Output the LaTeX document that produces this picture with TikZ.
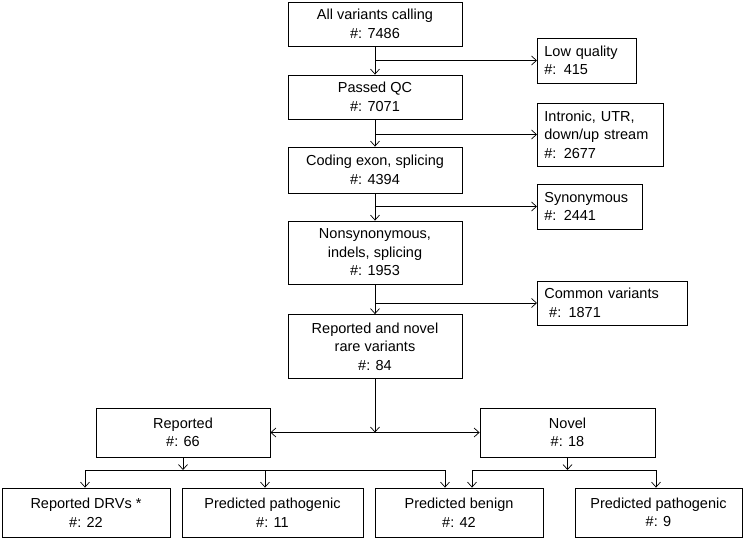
\documentclass[tikz,border=0pt]{standalone}
\usepackage{fontspec}
\setmainfont{Liberation Sans}
\usetikzlibrary{arrows.meta}
\begin{document}
\begin{tikzpicture}[x=1pt,y=-1pt,
  box/.style={draw,line width=0.8pt,inner sep=2pt,align=center,font=\fontsize{14.5}{18.5}\selectfont},
  sbox/.style={draw,line width=0.8pt,inner xsep=7pt,inner ysep=2pt,align=left,anchor=west,text width=#1-14pt,minimum width=#1,font=\fontsize{14.5}{18.5}\selectfont},
  conn/.style={line width=0.7pt},
  arr/.style={line width=0.7pt,-{Straight Barb[length=5pt,width=9pt]}}]
\useasboundingbox (0,0) rectangle (743,541);
% main column
\node[box,minimum width=174pt,minimum height=44pt] (b1) at (375,24) {All variants calling\\\#: 7486};
\node[box,minimum width=174pt,minimum height=44pt] (b2) at (375,97) {Passed QC\\\#: 7071};
\node[box,minimum width=174pt,minimum height=46pt] (b3) at (375,170) {Coding exon, splicing\\\#: 4394};
\node[box,minimum width=174pt,minimum height=63pt] (b4) at (375,252.5) {Nonsynonymous,\\indels, splicing\\\#: 1953};
\node[box,minimum width=174pt,minimum height=64pt] (b5) at (375,346.5) {Reported and novel\\rare variants\\\#: 84};
% side boxes
\node[sbox=99pt,minimum height=45pt] (s1) at (537,60.5) {Low quality\\\#: 415};
\node[sbox=126pt,minimum height=63pt] (s2) at (537,134.5) {Intronic, UTR,\\down/up stream\\\#: 2677};
\node[sbox=105pt,minimum height=45pt] (s3) at (537,206.5) {Synonymous\\\#: 2441};
\node[sbox=150pt,minimum height=44pt] (s4) at (537,303) {Common variants\\\ \#: 1871};
% second level
\node[box,minimum width=174pt,minimum height=49pt] (rep) at (183,432.5) {Reported\\\#: 66};
\node[box,minimum width=175pt,minimum height=49pt] (nov) at (567.5,432.5) {Novel\\\#: 18};
% bottom
\node[box,minimum width=168pt,minimum height=49pt] (c1) at (86,512.5) {Reported DRVs *\\\#: 22};
\node[box,minimum width=181pt,minimum height=49pt] (c2) at (272.5,512.5) {Predicted pathogenic\\\#: 11};
\node[box,minimum width=168pt,minimum height=49pt] (c3) at (459,512.5) {Predicted benign\\\#: 42};
\node[box,minimum width=167pt,minimum height=49pt] (c4) at (658.5,512.5) {Predicted pathogenic\\\#: 9};
% main flow
\draw[arr] (b1.south) -- (b2.north);
\draw[arr] (b2.south) -- (b3.north);
\draw[arr] (b3.south) -- (b4.north);
\draw[arr] (b4.south) -- (b5.north);
\coordinate (j1) at (b1.south |- s1.west);
\coordinate (j2) at (b2.south |- s2.west);
\coordinate (j3) at (b3.south |- s3.west);
\coordinate (j4) at (b4.south |- s4.west);
\draw[arr] (j1) -- (s1.west);
\draw[arr] (j2) -- (s2.west);
\draw[arr] (j3) -- (s3.west);
\draw[arr] (j4) -- (s4.west);
% split
\coordinate (sp) at (b5.south |- rep.east);
\draw[arr] (b5.south) -- (sp);
\draw[arr] (sp) -- (rep.east);
\draw[arr] (sp) -- (nov.west);
% reported branch
\coordinate (r0) at (rep.south |- 0,470);
\draw[arr] (rep.south) -- (r0);
\coordinate (rl) at (85,470);
\coordinate (rm) at (265,470);
\coordinate (rr) at (445,470);
\draw[conn] (rl) -- (rr);
\draw[arr] (rl) -- (rl |- c1.north);
\draw[arr] (rm) -- (rm |- c2.north);
\draw[arr] (rr) -- (rr |- c3.north);
% novel branch
\coordinate (n0) at (nov.south |- 0,470);
\draw[arr] (nov.south) -- (n0);
\coordinate (nl) at (472,470);
\coordinate (nr) at (656,470);
\draw[conn] (nl) -- (nr);
\draw[arr] (nl) -- (nl |- c3.north);
\draw[arr] (nr) -- (nr |- c4.north);
\end{tikzpicture}
\end{document}
